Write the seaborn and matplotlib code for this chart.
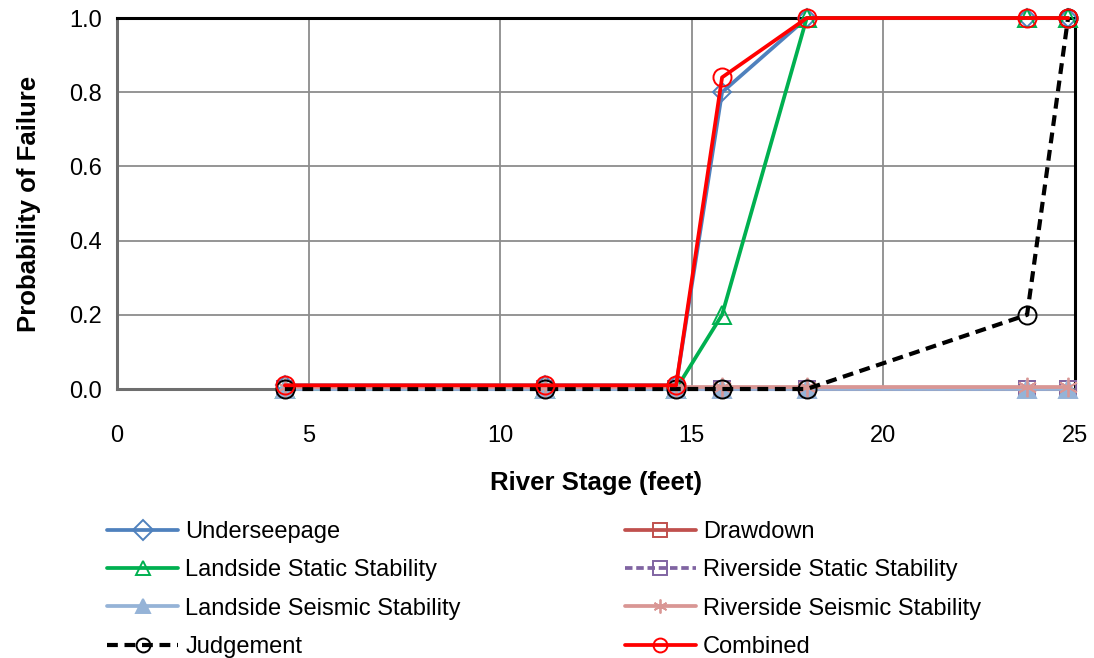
import matplotlib
matplotlib.use("Agg")
import matplotlib.pyplot as plt
import seaborn as sns
import pandas as pd

sns.set_theme(style="white")
plt.rcParams['font.family'] = ['Liberation Sans', 'DejaVu Sans']
plt.rcParams['text.color'] = 'black'
plt.rcParams['axes.labelcolor'] = 'black'

stage = [4.38, 11.17, 14.59, 15.79, 18.0, 23.75, 24.82]
underseepage = [0.01, 0.01, 0.01, 0.80, 1.0, 1.0, 1.0]
drawdown = [0, 0, 0, 0, 0, 0, 0]
landside_static = [0, 0, 0, 0.2, 1.0, 1.0, 1.0]
riverside_static = [0, 0, 0, 0, 0, 0, 0]
landside_seismic = [0, 0, 0, 0, 0, 0, 0]
riverside_seismic = [0.005, 0.005, 0.005, 0.005, 0.005, 0.005, 0.005]
judgement = [0, 0, 0, 0, 0, 0.2, 1.0]
combined = [0.01, 0.01, 0.01, 0.84, 1.0, 1.0, 1.0]

x_ticks = [0, 5, 10, 15, 20, 25]
y_ticks = [0.0, 0.2, 0.4, 0.6, 0.8, 1.0]

series = [
    ("Underseepage", underseepage, "#4F81BD", "D", "none", "-", 9),
    ("Drawdown", drawdown, "#C0504D", "s", "none", "-", 11),
    ("Landside Static Stability", landside_static, "#00B050", "^", "none", "-", 13),
    ("Riverside Static Stability", riverside_static, "#8064A2", "s", "none", (0, (2.0, 1.0)), 11),
    ("Landside Seismic Stability", landside_seismic, "#95B3D7", "^", "#95B3D7", "-", 13),
    ("Riverside Seismic Stability", riverside_seismic, "#D99694", "*", "none", "-", 0),
    ("Judgement", judgement, "black", "o", "none", (0, (2.6, 1.6)), 13),
    ("Combined", combined, "#FF0000", "o", "none", "-", 13),
]

fig = plt.figure(figsize=(10.94, 6.58), dpi=100)
ax = fig.add_axes([0.107, 0.4088, 0.8756, 0.5638])

handles = {}
for name, vals, color, marker, mfc, ls, ms in series:
    df = pd.DataFrame({"stage": stage, "p": vals})
    sns.lineplot(data=df, x="stage", y="p", ax=ax, color=color,
                 linewidth=3.0 if name == "Judgement" else 2.7,
                 linestyle=ls, marker=None, clip_on=False, zorder=3)
    line = ax.lines[-1]
    if name == "Riverside Seismic Stability":
        line.set_marker((6, 2, 0))
        line.set_markersize(14)
        line.set_markeredgewidth(1.3)
        line.set_markeredgecolor(color)
    else:
        line.set_marker(marker)
        line.set_markersize(ms)
        line.set_markerfacecolor(mfc)
        line.set_markeredgecolor(color)
        line.set_markeredgewidth(1.4)
    handles[name] = line

ax.set_xlim(0, 25)
ax.set_ylim(0, 1.0)
ax.set_xticks(x_ticks)
ax.set_yticks(y_ticks)
ax.set_yticklabels([f"{v:.1f}" for v in y_ticks])
ax.grid(True, color="#8C8C8C", linewidth=1.3)
ax.set_axisbelow(True)
ax.tick_params(axis="both", labelsize=17, labelcolor="black", length=5, width=1.2,
               color="#8C8C8C", direction="out", pad=6)
ax.tick_params(axis="x", pad=21)

for side in ["top", "right"]:
    ax.spines[side].set_color("black")
    ax.spines[side].set_linewidth(2.2)
for side in ["left", "bottom"]:
    ax.spines[side].set_color("#6E6E6E")
    ax.spines[side].set_linewidth(2.2)

ax.set_xlabel("River Stage (feet)", fontsize=18.5, fontweight="bold", labelpad=17, color="black")
ax.set_ylabel("Probability of Failure", fontsize=18.5, fontweight="bold", labelpad=20, color="black")

order = ["Underseepage", "Landside Static Stability", "Landside Seismic Stability", "Judgement",
         "Drawdown", "Riverside Static Stability", "Riverside Seismic Stability", "Combined"]
leg = fig.legend([handles[n] for n in order], order, ncol=2, loc="upper left",
                 bbox_to_anchor=(0.098, 0.208), frameon=False, fontsize=17,
                 handlelength=3.0, handletextpad=0.3, columnspacing=6.95,
                 labelspacing=0.69, borderaxespad=0, borderpad=0)
for lh in leg.legend_handles:
    lh.set_markersize(10)
for t in leg.get_texts():
    t.set_color("black")

fig.savefig("out.png", dpi=100)
